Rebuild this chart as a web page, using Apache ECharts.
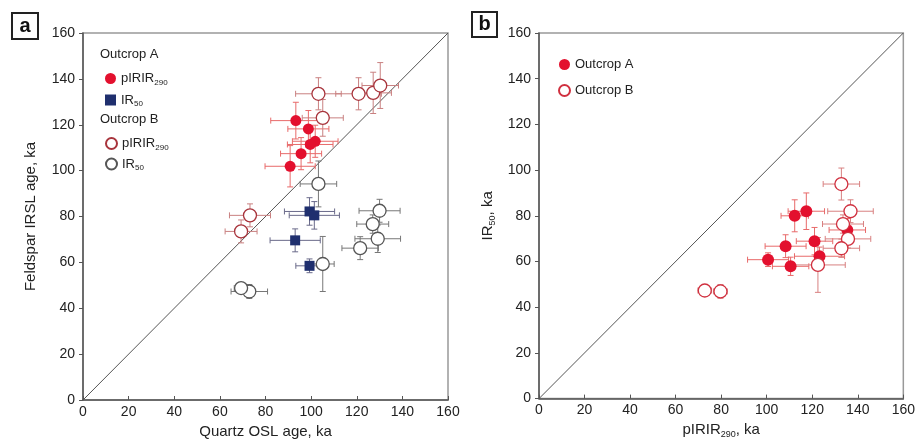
<!DOCTYPE html>
<html>
<head>
<meta charset="utf-8">
<script src="https://cdn.jsdelivr.net/npm/echarts@6/dist/echarts.min.js"></script>
<style>
  html, body { margin: 0; padding: 0; background: #fff; }
  #chart { width: 918px; height: 444px; }
</style>
</head>
<body>
<div id="chart"></div>
<script>
// [x, y, xErr, yErr] in ka
// panel a: quartz OSL age vs feldspar IRSL age
var aOutcropAPirir = [[93.3, 121.8, 11, 8], [98.8, 118.2, 9, 8], [101.8, 112.8, 10, 7],
    [99.6, 111.4, 10, 8], [95.6, 107.4, 9, 7], [90.8, 101.9, 11, 9]];
var aOutcropAIr50 = [[99.3, 82.2, 11, 6], [101.4, 80.5, 11, 6], [93.0, 69.6, 11, 5], [99.3, 58.5, 6, 3]];
var aOutcropBPirir = [[103.2, 133.5, 10, 7], [120.8, 133.5, 10, 7], [127.2, 133.9, 8, 9],
    [130.3, 137.1, 8, 10], [105.1, 123.0, 9, 8], [73.2, 80.5, 9, 5], [69.3, 73.5, 7, 5]];
var aOutcropBIr50 = [[103.2, 94.2, 8, 10], [130.0, 82.5, 9, 5], [127.0, 76.7, 7, 4],
    [129.2, 70.3, 10, 6], [121.5, 66.2, 8, 5], [105.1, 59.3, 5, 12], [72.9, 47.3, 8, 3], [69.3, 48.8, 3, 2]];
// panel b: pIRIR290 vs IR50
var bOutcropA = [[112.3, 80.0, 6, 7], [117.4, 82.0, 8, 8], [108.3, 66.7, 9, 5], [121.0, 68.9, 8, 6],
    [100.6, 60.8, 9, 3], [110.5, 57.9, 8, 4], [123.2, 62.3, 11, 4], [135.4, 73.8, 8, 5]];
var bOutcropB = [[132.8, 93.9, 8, 7], [136.8, 82.0, 10, 5], [133.5, 76.4, 9, 4], [135.7, 69.9, 10, 4],
    [132.8, 65.8, 8, 4], [122.5, 58.5, 12, 12], [79.7, 46.9, 3, 3], [72.8, 47.3, 3, 2]];
var oneToOne = [[0, 0], [160, 160]];
var axisMin = 0, axisMax = 160, axisStep = 20;

var myChart = echarts.init(document.getElementById('chart'));

var FONT = 'Liberation Sans';
var rich = {
    t: { fontFamily: FONT, fontSize: 13, color: '#222' },
    s: { fontFamily: FONT, fontSize: 8, color: '#222', padding: [8, 0, 0, 0] }
};
var nameRich = {
    t: { fontFamily: FONT, fontSize: 15, color: '#222' },
    s: { fontFamily: FONT, fontSize: 9, color: '#222', padding: [9, 0, 0, 0] }
};

// error bars with small caps
var errSeries = function (idx, data, color) {
    return {
        type: 'custom',
        xAxisIndex: idx, yAxisIndex: idx,
        silent: true, z: 2,
        encode: { x: 0, y: 1 },
        data: data,
        renderItem: function (params, api) {
            var x = api.value(0), y = api.value(1), ex = api.value(2), ey = api.value(3);
            var l = api.coord([x - ex, y]), r = api.coord([x + ex, y]);
            var t = api.coord([x, y + ey]), b = api.coord([x, y - ey]);
            var cap = 3;
            var st = { stroke: color, lineWidth: 1 };
            var ln = function (x1, y1, x2, y2) {
                return { type: 'line', shape: { x1: x1, y1: y1, x2: x2, y2: y2 }, style: st };
            };
            return {
                type: 'group',
                children: [
                    ln(l[0], l[1], r[0], r[1]),
                    ln(t[0], t[1], b[0], b[1]),
                    ln(l[0], l[1] - cap, l[0], l[1] + cap),
                    ln(r[0], r[1] - cap, r[0], r[1] + cap),
                    ln(t[0] - cap, t[1], t[0] + cap, t[1]),
                    ln(b[0] - cap, b[1], b[0] + cap, b[1])
                ]
            };
        }
    };
};

var pts = function (idx, name, data, symbol, size, fill, border) {
    return {
        type: 'scatter', name: name,
        xAxisIndex: idx, yAxisIndex: idx, z: 3,
        symbol: symbol, symbolSize: size,
        data: data.map(function (d) { return [d[0], d[1]]; }),
        itemStyle: { color: fill, borderColor: border, borderWidth: fill === '#fff' ? 1.3 : 0, opacity: 1 }
    };
};

var diag = function (idx) {
    return {
        type: 'line', xAxisIndex: idx, yAxisIndex: idx, data: oneToOne,
        symbol: 'none', silent: true, z: 1,
        lineStyle: { color: '#555', width: 1 }
    };
};

var xAxisBase = function (idx, name) {
    return {
        type: 'value', gridIndex: idx, min: axisMin, max: axisMax, interval: axisStep,
        name: name, nameLocation: 'middle', nameGap: 22,
        nameTextStyle: { rich: nameRich },
        axisLine: { lineStyle: { color: '#555', width: 1.5 } },
        axisTick: { inside: true, length: 4, lineStyle: { color: '#555' } },
        axisLabel: { fontFamily: FONT, fontSize: 14, color: '#222', margin: 5 },
        splitLine: { show: false }
    };
};
var yAxisBase = function (idx, name, gap) {
    return {
        type: 'value', gridIndex: idx, min: axisMin, max: axisMax, interval: axisStep,
        name: name, nameLocation: 'middle', nameGap: gap, nameRotate: 90,
        nameTextStyle: { rich: nameRich },
        axisLine: { lineStyle: { color: '#555', width: 1.5 } },
        axisTick: { length: 4, lineStyle: { color: '#555' } },
        axisLabel: { fontFamily: FONT, fontSize: 14, color: '#222', margin: 8 },
        splitLine: { show: false }
    };
};

var legendNames = {
    'a-A-pirir': '{t|pIRIR}{s|290}', 'a-A-ir50': '{t|IR}{s|50}',
    'a-B-pirir': '{t|pIRIR}{s|290}', 'a-B-ir50': '{t|IR}{s|50}',
    'b-A': '{t|Outcrop A}', 'b-B': '{t|Outcrop B}'
};
var legendBase = function (left, top, data, gap) {
    return {
        left: left, top: top, orient: 'vertical', data: data,
        itemWidth: 11, itemHeight: 11, itemGap: gap,
        formatter: function (n) { return legendNames[n]; },
        textStyle: { rich: rich }, selectedMode: false
    };
};

var RED = '#e3102e', NAVY = '#1f2f6e', BROWN = '#a8343c', GREY = '#555', PINK = '#d0303f';

option = {
    animation: false,
    grid: [
        { left: 83, top: 33, width: 365, height: 367, show: true, borderColor: '#999', borderWidth: 1.5 },
        { left: 539, top: 33, width: 365, height: 367, show: true, borderColor: '#999', borderWidth: 1.5 }
    ],
    xAxis: [
        xAxisBase(0, '{t|Quartz OSL age, ka}'),
        xAxisBase(1, '{t|pIRIR}{s|290}{t|, ka}')
    ],
    yAxis: [
        yAxisBase(0, '{t|Feldspar IRSL age, ka}', 45),
        yAxisBase(1, '{t|IR}{s|50}{t|, ka}', 42)
    ],
    legend: [
        legendBase(100, 67, ['a-A-pirir', 'a-A-ir50'], 7),
        legendBase(100, 132, ['a-B-pirir', 'a-B-ir50'], 6),
        legendBase(553, 53, ['b-A', 'b-B'], 13)
    ],
    graphic: [
        { type: 'text', left: 100, top: 48, style: { text: 'Outcrop A', font: '13px "Liberation Sans"', fill: '#222' } },
        { type: 'text', left: 100, top: 113, style: { text: 'Outcrop B', font: '13px "Liberation Sans"', fill: '#222' } },
        { type: 'rect', shape: { x: 12, y: 13, width: 26, height: 26 }, style: { fill: '#fff', stroke: '#222', lineWidth: 2 } },
        { type: 'text', x: 25, y: 26, style: { text: 'a', font: 'bold 20px "Liberation Sans"', fill: '#111', align: 'center', verticalAlign: 'middle' } },
        { type: 'rect', shape: { x: 472, y: 12, width: 25, height: 25 }, style: { fill: '#fff', stroke: '#222', lineWidth: 2 } },
        { type: 'text', x: 484.5, y: 24.5, style: { text: 'b', font: 'bold 20px "Liberation Sans"', fill: '#111', align: 'center', verticalAlign: 'middle' } }
    ],
    series: [
        diag(0), diag(1),
        errSeries(0, aOutcropAPirir, '#e86a6a'),
        errSeries(0, aOutcropAIr50, '#6a6a8a'),
        errSeries(0, aOutcropBPirir, '#c98080'),
        errSeries(0, aOutcropBIr50, '#777'),
        errSeries(1, bOutcropA, '#e86a6a'),
        errSeries(1, bOutcropB, '#d88080'),
        pts(0, 'a-A-pirir', aOutcropAPirir, 'circle', 11, RED, RED),
        pts(0, 'a-A-ir50', aOutcropAIr50, 'rect', 10, NAVY, NAVY),
        pts(0, 'a-B-pirir', aOutcropBPirir, 'circle', 13, '#fff', BROWN),
        pts(0, 'a-B-ir50', aOutcropBIr50, 'circle', 13, '#fff', GREY),
        pts(1, 'b-A', bOutcropA, 'circle', 12, RED, RED),
        pts(1, 'b-B', bOutcropB, 'circle', 13, '#fff', PINK)
    ]
};
myChart.setOption(option);
</script>
</body>
</html>
